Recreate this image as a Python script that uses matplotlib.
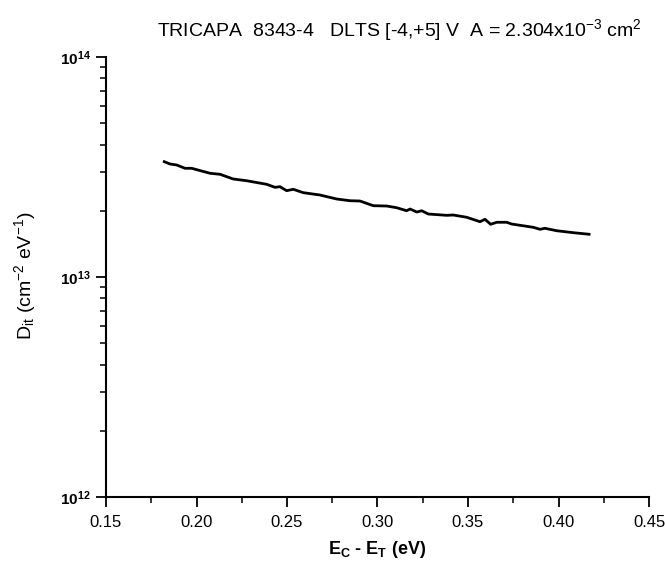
import matplotlib
matplotlib.use('Agg')
import matplotlib.pyplot as plt
from matplotlib.ticker import MultipleLocator, LogLocator, FixedFormatter, FixedLocator, NullFormatter

plt.rcParams['font.family'] = ['Liberation Sans', 'DejaVu Sans']
plt.rcParams['mathtext.fontset'] = 'custom'
plt.rcParams['mathtext.rm'] = 'Liberation Sans'
plt.rcParams['mathtext.it'] = 'Liberation Sans'
plt.rcParams['mathtext.bf'] = 'Liberation Sans:bold'

# energy below conduction band (eV) and interface state density (cm^-2 eV^-1)
energy = [0.1822, 0.1854, 0.1891, 0.1936, 0.1973, 0.2075, 0.2130, 0.2203, 0.2277,
          0.2388, 0.2434, 0.2461, 0.2498, 0.2535, 0.2590, 0.2682, 0.2775, 0.2848,
          0.2903, 0.2977, 0.3051, 0.3106, 0.3161, 0.3180, 0.3217, 0.3244, 0.3281,
          0.3382, 0.3419, 0.3493, 0.3566, 0.3594, 0.3625, 0.3659, 0.3714, 0.3741,
          0.3861, 0.3898, 0.3925, 0.3990, 0.4082, 0.4169]
dit = [3.343e13, 3.263e13, 3.229e13, 3.120e13, 3.120e13, 2.961e13, 2.930e13, 2.789e13,
       2.739e13, 2.638e13, 2.556e13, 2.573e13, 2.468e13, 2.504e13, 2.417e13, 2.359e13,
       2.262e13, 2.222e13, 2.215e13, 2.109e13, 2.102e13, 2.065e13, 2.001e13, 2.037e13,
       1.974e13, 2.001e13, 1.933e13, 1.907e13, 1.913e13, 1.868e13, 1.784e13, 1.829e13,
       1.736e13, 1.773e13, 1.773e13, 1.741e13, 1.682e13, 1.647e13, 1.665e13, 1.623e13,
       1.590e13, 1.564e13]

x_ticks = [0.15, 0.20, 0.25, 0.30, 0.35, 0.40, 0.45]
y_ticks = [1e12, 1e13, 1e14]
y_labels = [r'$\mathbf{10^{12}}$', r'$\mathbf{10^{13}}$', r'$\mathbf{10^{14}}$']

fig = plt.figure(figsize=(6.65, 5.63), dpi=100)
ax = fig.add_axes([106 / 665, 1 - 497 / 563, 543 / 665, 440 / 563])

ax.plot(energy, dit, color='black', lw=2.0)

ax.set_yscale('log')
ax.set_xlim(0.15, 0.45)
ax.set_ylim(1e12, 1e14)

ax.xaxis.set_major_locator(FixedLocator(x_ticks))
ax.set_xticklabels([f'{t:.2f}' for t in x_ticks])
ax.xaxis.set_minor_locator(MultipleLocator(0.025))

ax.yaxis.set_major_locator(FixedLocator(y_ticks))
ax.yaxis.set_major_formatter(FixedFormatter(y_labels))
ax.yaxis.set_minor_locator(LogLocator(base=10, subs=range(2, 10)))
ax.yaxis.set_minor_formatter(NullFormatter())

for s in ['top', 'right']:
    ax.spines[s].set_visible(False)
for s in ['left', 'bottom']:
    ax.spines[s].set_linewidth(1.5)

ax.tick_params(axis='both', which='major', direction='out', length=7, width=1.3)
ax.tick_params(axis='both', which='minor', direction='out', length=4, width=1.1)
ax.tick_params(axis='x', labelsize=12, pad=6)
ax.tick_params(axis='y', labelsize=11, pad=4)

# axis labels placed in figure pixels to match the reference layout
fig.text(377 / 665, 1 - 549 / 563, r'$\mathbf{E_C}$ - $\mathbf{E_T}$ (eV)',
         ha='center', va='center', fontsize=13, fontweight='bold')
fig.text(25 / 665, 1 - 276 / 563, r'D$_{\mathrm{it}}$ (cm$^{-2}$ eV$^{-1}$)',
         ha='center', va='center', rotation=90, fontsize=14)

fig.text(399 / 665, 1 - 30 / 563,
         r'TRICAPA  8343-4   DLTS [-4,+5] V  A = 2.304x10$^{-3}$ cm$^{2}$',
         ha='center', va='center', fontsize=14)

fig.savefig('out.png', dpi=100)
